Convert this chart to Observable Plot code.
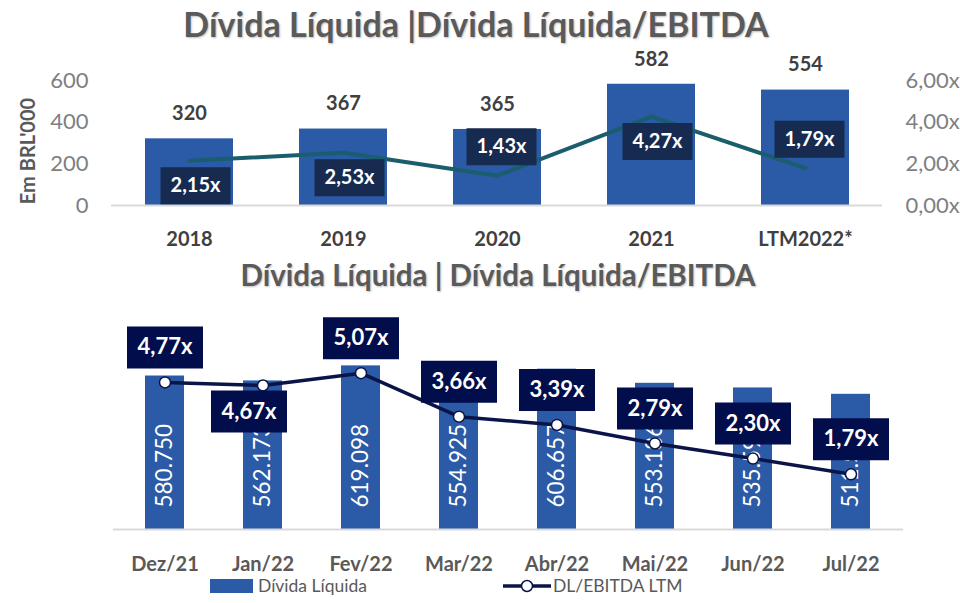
<!DOCTYPE html>
<html><head><meta charset="utf-8">
<script src="https://cdn.jsdelivr.net/npm/d3@7"></script>
<script src="https://cdn.jsdelivr.net/npm/@observablehq/plot@0.6"></script>
<style>
body{margin:0;background:#fff;font-family:Lato, sans-serif;}
#wrap{position:relative;width:960px;height:603px;overflow:hidden;background:#fff;}
.title{position:absolute;width:960px;text-align:center;font-weight:700;color:#5a5a5a;text-shadow:1px 1px 2px rgba(0,0,0,.25);white-space:nowrap;line-height:1;}
#t1{top:7px;left:-4px;font-size:34px;}
#t2{top:260px;left:18px;font-size:29.5px;}
#p1{position:absolute;left:0;top:40px;width:960px;}
#p2{position:absolute;left:0;top:290px;width:960px;}
.lg{position:absolute;font-size:17.5px;color:#595959;line-height:1;}
</style></head>
<body>
<div id="wrap">
  <div class="title" id="t1">Dívida Líquida |Dívida Líquida/EBITDA</div>
  <div id="p1"></div>
  <div class="title" id="t2">Dívida Líquida | Dívida Líquida/EBITDA</div>
  <div id="p2"></div>
  <div class="lg" style="left:210px;top:579px;width:43px;height:14px;background:#2b5aa7;"></div>
  <div class="lg" style="left:258px;top:577px;">Dívida Líquida</div>
  <svg class="lg" style="left:502px;top:578px;" width="50" height="16"><line x1="1" y1="8" x2="49" y2="8" stroke="#0b1448" stroke-width="3.5"/><circle cx="25" cy="8" r="5.5" fill="#fff" stroke="#0b1448" stroke-width="1.5"/></svg>
  <div class="lg" style="left:553px;top:577px;">DL/EBITDA LTM</div>
</div>
<script>
// ---- data: annual ----
const yearCats = ["2018", "2019", "2020", "2021", "LTM2022*"];
const yearDebt = [320, 367, 365, 582, 554];
const yearRatio = [2.15, 2.53, 1.43, 4.27, 1.79];
const yearTicks = [0, 200, 400, 600];
const ratioTickLabels = ["0,00x", "2,00x", "4,00x", "6,00x"];
const yearLabelSide = ["below", "below", "above", "below", "above"];

// ---- data: monthly ----
const monthCats = ["Dez/21", "Jan/22", "Fev/22", "Mar/22", "Abr/22", "Mai/22", "Jun/22", "Jul/22"];
const monthDebt = [580750, 562173, 619098, 554925, 606657, 553186, 535590, 511548];
const monthRatio = [4.77, 4.67, 5.07, 3.66, 3.39, 2.79, 2.30, 1.79];
const monthLabelSide = ["above", "below", "above", "above", "above", "above", "above", "above"];

// ---- helpers ----
const fmtX = v => v.toFixed(2).replace(".", ",") + "x";
const fmtDebt = v => d3.format(",")(v).replace(/,/g, ".");
const rectSym = (w, h) => ({draw(ctx) { ctx.rect(-w / 2, -h / 2, w, h); }});
const BLUE = "#2b5aa7";

// ---- top chart ----
const yMax1 = 600, rMax1 = 6;
const annual = yearCats.map((c, i) => ({cat: c, debt: yearDebt[i], ratio: yearRatio[i], side: yearLabelSide[i], r: yearRatio[i] * yMax1 / rMax1}));

const p1 = Plot.plot({
  width: 960, height: 215,
  marginTop: 40, marginBottom: 50, marginLeft: 111, marginRight: 78,
  style: {fontFamily: "Lato, sans-serif", background: "transparent"},
  x: {domain: yearCats, paddingInner: 0.43, paddingOuter: 0.215, label: null},
  y: {domain: [0, yMax1], label: null},
  marks: [
    Plot.barY(annual, {x: "cat", y: "debt", fill: BLUE}),
    Plot.ruleY([0], {stroke: "#d9d9d9", strokeWidth: 2}),
    Plot.axisX({anchor: "bottom", tickSize: 0, tickPadding: 26, fontSize: 20, fontWeight: 700, fill: "#404040", label: null}),
    Plot.axisY(yearTicks, {anchor: "left", tickSize: 0, tickPadding: 23, fontSize: 22, fill: "#7f7f7f", label: null}),
    // secondary (ratio) axis on the right
    Plot.text(yearTicks, {y: d => d, frameAnchor: "right", textAnchor: "start", dx: 23,
      text: d => ratioTickLabels[yearTicks.indexOf(d)], fontSize: 22, fill: "#7f7f7f"}),
    Plot.text(["Em BRL'000"], {frameAnchor: "left", text: d => d, rotate: -90, textAnchor: "middle", dx: -83, dy: 8,
      fontSize: 20, fontWeight: 700, fill: "#595959"}),
    Plot.text(annual, {x: "cat", y: "debt", text: d => String(d.debt), dy: -25, fontSize: 20, fontWeight: 700, fill: "#404040"}),
    Plot.line(annual, {x: "cat", y: "r", stroke: "#1a5d6d", strokeWidth: 4, strokeLinejoin: "round"}),
    Plot.dot(annual, {filter: d => d.side === "below", x: "cat", y: "r", symbol: rectSym(70, 37), fill: "#162b4f", stroke: "none", dx: 6, dy: 25}),
    Plot.dot(annual, {filter: d => d.side === "above", x: "cat", y: "r", symbol: rectSym(70, 37), fill: "#162b4f", stroke: "none", dx: 4, dy: -29}),
    Plot.text(annual, {filter: d => d.side === "below", x: "cat", y: "r", text: d => fmtX(d.ratio), dx: 6, dy: 25, fontSize: 20, fontWeight: 700, fill: "#fff"}),
    Plot.text(annual, {filter: d => d.side === "above", x: "cat", y: "r", text: d => fmtX(d.ratio), dx: 4, dy: -29, fontSize: 20, fontWeight: 700, fill: "#fff"})
  ]
});
document.getElementById("p1").appendChild(p1);

// ---- bottom chart ----
const yMax2 = 700000, rMax2 = 6;
const monthly = monthCats.map((c, i) => ({cat: c, debt: monthDebt[i], ratio: monthRatio[i], side: monthLabelSide[i], r: monthRatio[i] * yMax2 / rMax2}));
const NAVY = "#0b1448", BOX = "#020d4c";

const p2 = Plot.plot({
  width: 960, height: 290,
  marginTop: 54, marginBottom: 51, marginLeft: 113, marginRight: 57,
  style: {fontFamily: "Lato, sans-serif", background: "transparent"},
  x: {domain: monthCats, paddingInner: 0.6, paddingOuter: 0.3, label: null},
  y: {domain: [0, yMax2], label: null, axis: null},
  marks: [
    Plot.barY(monthly, {x: "cat", y: "debt", fill: BLUE}),
    Plot.ruleY([0], {stroke: "#d9d9d9", strokeWidth: 2}),
    Plot.axisX({anchor: "bottom", tickSize: 0, tickPadding: 27, fontSize: 20, fontWeight: 700, fill: "#595959", label: null}),
    Plot.text(monthly, {x: "cat", y: () => 0, text: d => fmtDebt(d.debt), rotate: -90, textAnchor: "start", dy: -22, fontSize: 22.5, fill: "#fff"}),
    Plot.line(monthly, {x: "cat", y: "r", stroke: NAVY, strokeWidth: 3.5}),
    Plot.dot(monthly, {x: "cat", y: "r", r: 5.5, fill: "#fff", stroke: NAVY, strokeWidth: 1.5}),
    Plot.dot(monthly, {filter: d => d.side === "above", x: "cat", y: "r", symbol: rectSym(76, 42), fill: BOX, stroke: "none", dy: -35}),
    Plot.dot(monthly, {filter: d => d.side === "below", x: "cat", y: "r", symbol: rectSym(76, 42), fill: BOX, stroke: "none", dx: -14, dy: 26}),
    Plot.text(monthly, {filter: d => d.side === "above", x: "cat", y: "r", text: d => fmtX(d.ratio), dy: -35, fontSize: 22, fontWeight: 700, fill: "#fff"}),
    Plot.text(monthly, {filter: d => d.side === "below", x: "cat", y: "r", text: d => fmtX(d.ratio), dx: -14, dy: 26, fontSize: 22, fontWeight: 700, fill: "#fff"})
  ]
});
document.getElementById("p2").appendChild(p2);
</script>
</body></html>
